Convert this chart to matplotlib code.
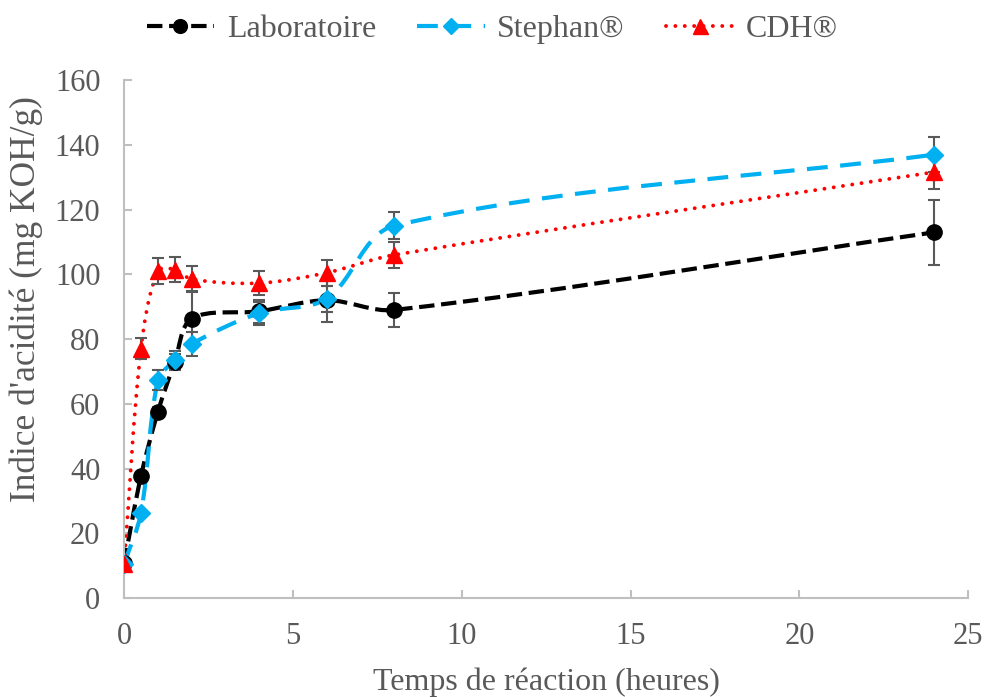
import numpy as np
import matplotlib
matplotlib.use('Agg')
import matplotlib.pyplot as plt
from matplotlib.path import Path
from matplotlib.patches import PathPatch
from matplotlib.lines import Line2D

plt.rcParams['font.family'] = ['Liberation Serif', 'DejaVu Serif']

# data
temps = [0, 0.5, 1, 1.5, 2, 4, 6, 8, 24]

labo = [10.8, 37.7, 57.5, 72.9, 86.3, 88.6, 92.0, 89.0, 113.0]
labo_err = [0.5, 1.0, 1.5, 2.5, 8.5, 3.5, 6.8, 5.2, 10.0]

stephan = [10.5, 26.3, 67.3, 73.5, 78.5, 88.0, 92.5, 115.0, 137.0]
stephan_err = [0.5, 1.0, 3.0, 2.8, 3.7, 3.5, 4.0, 4.2, 5.5]

cdh = [10.5, 77.0, 101.0, 101.5, 98.5, 97.3, 100.5, 106.0, 131.6]
cdh_err = [0.5, 3.3, 4.0, 4.0, 4.0, 3.7, 4.0, 4.0, 5.3]

series_names = ['Laboratoire', 'Stephan®', 'CDH®']

text_col = '#595959'
axis_col = '#BFBFBF'
err_col = '#595959'


def smooth_path(ax, x, y):
    # bezier through the points, tangents weighted by screen chord length
    pts = ax.transData.transform(np.column_stack([x, y]))
    n = len(pts)
    verts = [pts[0]]
    codes = [Path.MOVETO]
    for i in range(n - 1):
        p0 = pts[max(i - 1, 0)]
        p1 = pts[i]
        p2 = pts[i + 1]
        p3 = pts[min(i + 2, n - 1)]
        l01 = np.hypot(*(p1 - p0))
        l12 = np.hypot(*(p2 - p1))
        l23 = np.hypot(*(p3 - p2))
        c1 = p1 + (p2 - p0) * (l12 / (l01 + l12)) / 3.0
        c2 = p2 - (p3 - p1) * (l12 / (l12 + l23)) / 3.0
        verts += [c1, c2, p2]
        codes += [Path.CURVE4] * 3
    verts = ax.transData.inverted().transform(np.array(verts))
    return Path(verts, codes)


fig = plt.figure(figsize=(9.85, 6.97), dpi=100)
ax = fig.add_axes([0.126, 0.142, 0.857, 0.743])
ax.set_xlim(0, 25)
ax.set_ylim(0, 160)

styles = [
    dict(color='black', ls=(0, (3.7, 1.6)), lw=3.0, marker='o', ms=11),
    dict(color='#00B0F0', ls=(0, (5.0, 3.0)), lw=3.0, marker='D', ms=9.5),
    dict(color='#FF0000', ls=(0, (0.01, 2.4)), lw=2.8, marker='^', ms=12),
]
datas = [(labo, labo_err), (stephan, stephan_err), (cdh, cdh_err)]

handles = []
for (vals, errs), st, name in zip(datas, styles, series_names):
    cap = 'round' if st['marker'] == '^' else 'butt'
    patch = PathPatch(smooth_path(ax, temps, vals), facecolor='none',
                      edgecolor=st['color'], lw=st['lw'], ls=st['ls'],
                      capstyle=cap, zorder=2)
    ax.add_patch(patch)
    ax.errorbar(temps, vals, yerr=errs, fmt='none', ecolor=err_col,
                elinewidth=1.5, capsize=4.5, capthick=1.5, zorder=3)
    ax.plot(temps, vals, ls='none', marker=st['marker'], ms=st['ms'],
            color=st['color'], zorder=4)
    handles.append(Line2D([], [], color=st['color'], lw=st['lw'],
                          ls=st['ls'], marker=st['marker'],
                          ms=st['ms'] * 0.9, dash_capstyle=cap))

ax.set_xticks(range(0, 26, 5))
ax.set_yticks(range(0, 161, 20))

for s in ['top', 'right']:
    ax.spines[s].set_visible(False)
for s in ['left', 'bottom']:
    ax.spines[s].set_color(axis_col)
    ax.spines[s].set_linewidth(1.5)

ax.tick_params(axis='both', direction='in', colors=axis_col,
               labelcolor=text_col, labelsize=22, length=6, width=1.5)
ax.tick_params(axis='x', pad=17)
ax.tick_params(axis='y', pad=17)

ax.set_xlabel('Temps de réaction (heures)', fontsize=23, color=text_col,
              labelpad=12)
fig.text(0.027, 0.571, "Indice d'acidité (mg KOH/g)", fontsize=25.5,
         color=text_col, rotation=90, ha='center', va='center')

fig.legend(handles, series_names, loc='upper center',
           bbox_to_anchor=(0.5, 1.02), ncol=3, frameon=False,
           fontsize=23, labelcolor=text_col, handlelength=2.1,
           columnspacing=1.3, handletextpad=0.4)

fig.savefig('out.png', dpi=100)
